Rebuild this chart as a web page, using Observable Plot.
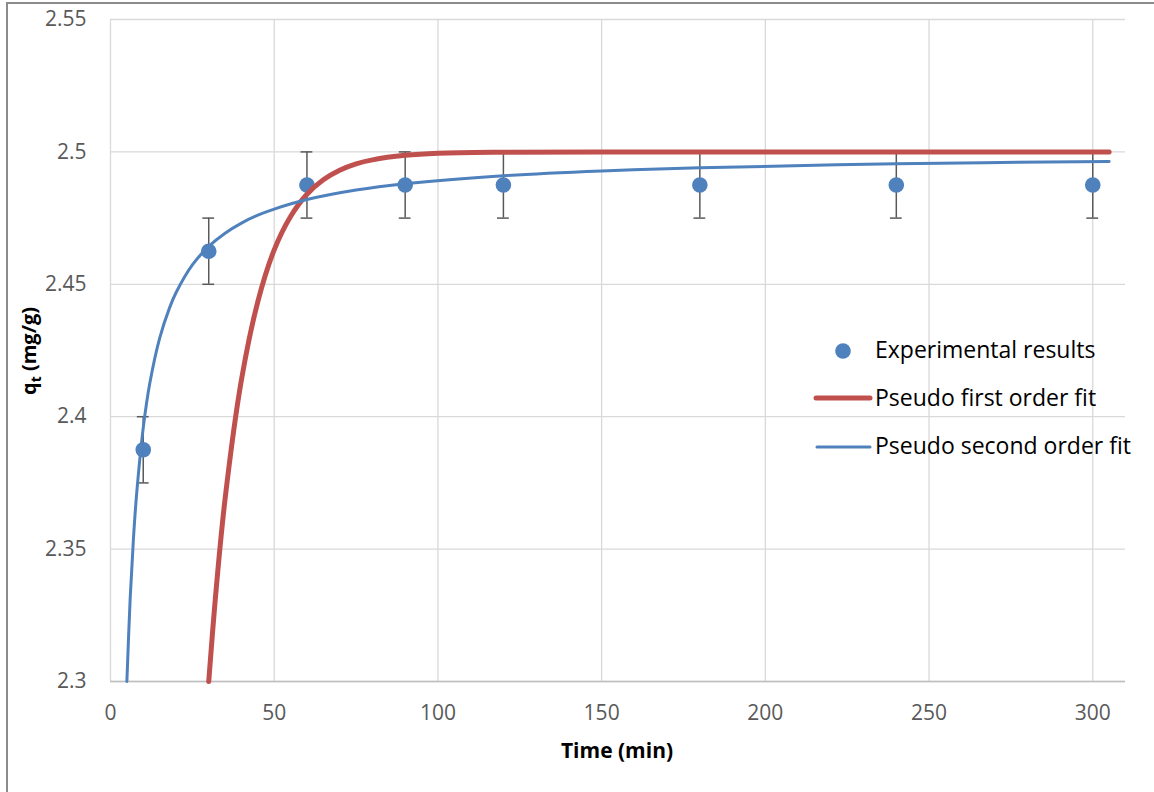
<!DOCTYPE html>
<html><head><meta charset="utf-8">
<script src="https://cdn.jsdelivr.net/npm/d3@7"></script>
<script src="https://cdn.jsdelivr.net/npm/@observablehq/plot@0.6"></script>
<style>
body{margin:0;background:#fff;}
#wrap{position:relative;width:1154px;height:792px;overflow:hidden;background:#fff;}
#frame{position:absolute;left:6px;top:2px;width:1300px;height:1000px;border:2px solid #8c8c8c;box-sizing:border-box;}
#chart{position:absolute;left:0;top:0;}
</style></head><body>
<div id="wrap"><div id="frame"></div><div id="chart"></div></div>
<script>
// Experimental data
const times   = [10, 30, 60, 90, 120, 180, 240, 300];
const qExp    = [2.3875, 2.4625, 2.4875, 2.4875, 2.4875, 2.4875, 2.4875, 2.4875];
const errLow  = [2.375, 2.45, 2.475, 2.475, 2.475, 2.475, 2.475, 2.475];
const errHigh = [2.4, 2.475, 2.5, 2.5, 2.5, 2.5, 2.5, 2.5];
// Pseudo first order fit
const pfoT = [30, 32, 35, 40, 45, 50, 55, 60, 65, 70, 75, 80, 90, 100, 120, 150, 200, 250, 305];
const pfoQ = [2.300, 2.331, 2.369, 2.414, 2.4435, 2.463, 2.4756, 2.484, 2.4895, 2.4931, 2.4955, 2.497, 2.4987, 2.4995, 2.4999, 2.5, 2.5, 2.5, 2.5];
// Pseudo second order fit
const psoT = [5, 6, 7, 8, 10, 12, 15, 18, 20, 25, 30, 35, 40, 45, 50, 60, 75, 90, 120, 150, 180, 240, 305];
const psoQ = [2.3000, 2.3311, 2.3538, 2.3711, 2.3958, 2.4126, 2.4296, 2.4410, 2.4468, 2.4573, 2.4643, 2.4693, 2.4731, 2.4761, 2.4784, 2.4820, 2.4856, 2.4880, 2.4910, 2.4928, 2.4940, 2.4955, 2.4964];
const xTicks = [0, 50, 100, 150, 200, 250, 300];
const yTicks = [2.3, 2.35, 2.4, 2.45, 2.5, 2.55];
const yTickLabels = ["2.3", "2.35", "2.4", "2.45", "2.5", "2.55"];
const legendLabels = ["Experimental results", "Pseudo first order fit", "Pseudo second order fit"];

const BLUE = "#4f81bd", RED = "#c0504d", GRID = "#d9d9d9", TXT = "#595959";

const expData = times.map((t, i) => ({t, q: qExp[i], lo: errLow[i], hi: errHigh[i]}));
const pfo = pfoT.map((t, i) => ({t, q: pfoQ[i]}));
const pso = psoT.map((t, i) => ({t, q: psoQ[i]}));

const W = 1154, H = 792;
const chart = Plot.plot({
  width: W, height: H,
  marginLeft: 110, marginRight: 29, marginTop: 19, marginBottom: 111,
  style: {fontFamily: "Open Sans", fontSize: "21px", background: "transparent", color: TXT},
  x: {domain: [0, 310]},
  y: {domain: [2.3, 2.55]},
  marks: [
    Plot.gridX(xTicks, {stroke: GRID, strokeOpacity: 1, strokeWidth: 1.3}),
    Plot.gridY(yTicks, {stroke: GRID, strokeOpacity: 1, strokeWidth: 1.3}),
    Plot.ruleY([2.3], {stroke: "#bfbfbf", strokeWidth: 1.5}),
    Plot.axisX(xTicks, {tickSize: 0, tickPadding: 24, label: null, fill: TXT, fontSize: 21}),
    Plot.axisY(yTicks, {tickSize: 0, tickPadding: 24, label: null, fill: TXT, fontSize: 21,
      tickFormat: d => yTickLabels[yTicks.indexOf(d)]}),
    // error bars
    Plot.ruleX(expData, {x: "t", y1: "lo", y2: "hi", stroke: TXT, strokeWidth: 1.5}),
    Plot.ruleY(expData, {y: "lo", x1: d => d.t - 1.8, x2: d => d.t + 1.8, stroke: TXT, strokeWidth: 1.5}),
    Plot.ruleY(expData, {y: "hi", x1: d => d.t - 1.8, x2: d => d.t + 1.8, stroke: TXT, strokeWidth: 1.5}),
    Plot.dot(expData, {x: "t", y: "q", r: 7.8, fill: BLUE, stroke: "none"}),
    Plot.line(pfo, {x: "t", y: "q", stroke: RED, strokeWidth: 5, curve: "catmull-rom", strokeLinecap: "round"}),
    Plot.line(pso, {x: "t", y: "q", stroke: BLUE, strokeWidth: 3, curve: "catmull-rom", strokeLinecap: "round"})
  ]
});
document.getElementById("chart").appendChild(chart);

const svg = d3.select(chart);
// Axis titles
svg.append("text")
  .attr("x", 617).attr("y", 758)
  .attr("text-anchor", "middle")
  .attr("font-family", "Open Sans").attr("font-weight", "bold").attr("font-size", 21)
  .attr("fill", "#000").text("Time (min)");
const yt = svg.append("text")
  .attr("transform", "translate(36,351) rotate(-90)")
  .attr("text-anchor", "middle")
  .attr("font-family", "Open Sans").attr("font-weight", "bold").attr("font-size", 20)
  .attr("fill", "#000");
yt.append("tspan").text("q");
yt.append("tspan").attr("font-size", 14).attr("dy", 5).text("t");
yt.append("tspan").attr("dy", -5).text(" (mg/g)");

// Legend
const lg = svg.append("g").attr("font-family", "Open Sans").attr("font-size", 23)
  .attr("fill", "#000").attr("text-anchor", "start");
lg.append("circle").attr("cx", 843).attr("cy", 351).attr("r", 7.8).attr("fill", BLUE);
lg.append("line").attr("x1", 816).attr("x2", 870).attr("y1", 398).attr("y2", 398)
  .attr("stroke", RED).attr("stroke-width", 5).attr("stroke-linecap", "round");
lg.append("line").attr("x1", 817).attr("x2", 870).attr("y1", 447).attr("y2", 447)
  .attr("stroke", BLUE).attr("stroke-width", 3).attr("stroke-linecap", "round");
[358, 406, 454].forEach((y, i) => {
  lg.append("text").attr("x", 875).attr("y", y).attr("text-anchor", "start").text(legendLabels[i]);
});
</script>
</body></html>
